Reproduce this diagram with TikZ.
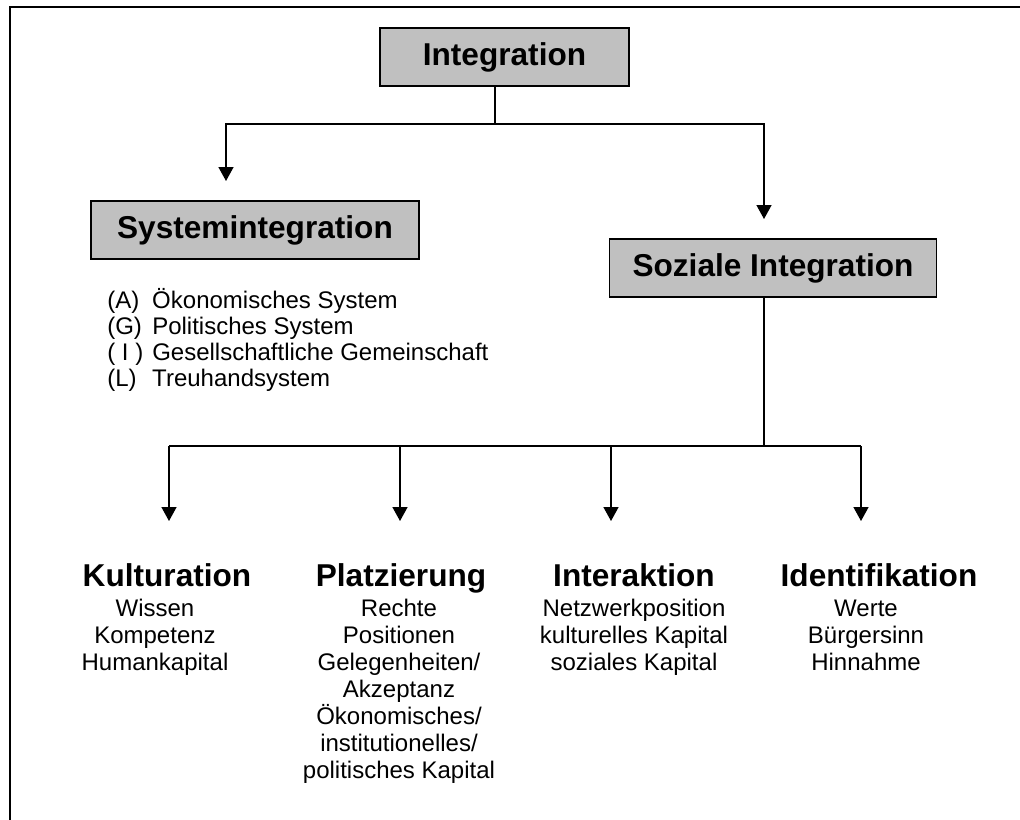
\documentclass[tikz,border=0pt]{standalone}
\usepackage{fontspec}
\setmainfont{Liberation Sans}
\usetikzlibrary{arrows.meta}
\definecolor{boxgray}{HTML}{C0C0C0}
\tikzset{
    headbox/.style={draw=black, fill=boxgray, line width=1.1pt, inner sep=0pt,
        minimum height=43.8pt, font=\bfseries\fontsize{23.7}{28}\selectfont},
    headtext/.style={inner sep=0pt, anchor=base, font=\bfseries\fontsize{23.7}{28}\selectfont},
    subtext/.style={inner sep=0pt, anchor=base, align=center, font=\fontsize{18}{20.25}\selectfont},
    listtext/.style={inner sep=0pt, anchor=base west, align=left, font=\fontsize{18}{19.5}\selectfont},
    link/.style={line width=1.1pt},
    arr/.style={link, -{Triangle[width=11.25pt,length=10.5pt]}}
}
\begin{document}
\begin{tikzpicture}[x=0.75pt,y=-0.75pt]
    \useasboundingbox (0,0) rectangle (1020,819);
    % outer frame, cut off at the right and bottom
    \draw[line width=1.5pt] (9.5,830) -- (9.5,7) -- (1030,7);

    \node[headbox, minimum width=186.75pt] (integ) at (504.5,57) {Integration};
    \node[headbox, minimum width=246pt] (sysint) at (255,230) {Systemintegration};
    \node[headbox, minimum width=245.6pt] (sozint) at (773,268) {Soziale Integration};

    % base of a multi-line node = baseline of its last line
    \node[listtext] (aglist) at (107,386)
        {\makebox[33.75pt][l]{(A)}Ökonomisches System\\
         \makebox[33.75pt][l]{(G)}Politisches System\\
         \makebox[33.75pt][l]{( I )}Gesellschaftliche Gemeinschaft\\
         \makebox[33.75pt][l]{(L)}Treuhandsystem};

    \coordinate (split1) at (495,124);
    \coordinate (sysTip) at (226,181);
    \coordinate (sozTip) at (764,219);
    \draw[link] (integ.south -| split1) -- (split1);
    \draw[arr] (split1) -| (sysTip);
    \draw[arr] (split1) -| (sozTip);

    \coordinate (split2) at (764,446);
    \coordinate (kulTip) at (169,521);
    \coordinate (plaTip) at (400,521);
    \coordinate (intTip) at (611,521);
    \coordinate (idTip) at (861,521);
    \draw[link] (sozint.south -| split2) -- (split2);
    \draw[link] (kulTip |- split2) -- (idTip |- split2);
    \foreach \tip in {kulTip,plaTip,intTip,idTip}
        \draw[arr] (\tip |- split2) -- (\tip);

    \node[headtext] (kul) at (167,586) {Kulturation};
    \node[headtext] (pla) at (401,586) {Platzierung};
    \node[headtext] (int) at (634,586) {Interaktion};
    \node[headtext] (ide) at (879,586) {Identifikation};

    \node[subtext] (kulsub) at (155,670) {Wissen\\Kompetenz\\Humankapital};
    \node[subtext] (plasub) at (399,778) {Rechte\\Positionen\\Gelegenheiten/\\Akzeptanz\\Ökonomisches/\\institutionelles/\\politisches Kapital};
    \node[subtext] (intsub) at (634,670) {Netzwerkposition\\kulturelles Kapital\\soziales Kapital};
    \node[subtext] (idesub) at (866,670) {Werte\\Bürgersinn\\Hinnahme};
\end{tikzpicture}
\end{document}
